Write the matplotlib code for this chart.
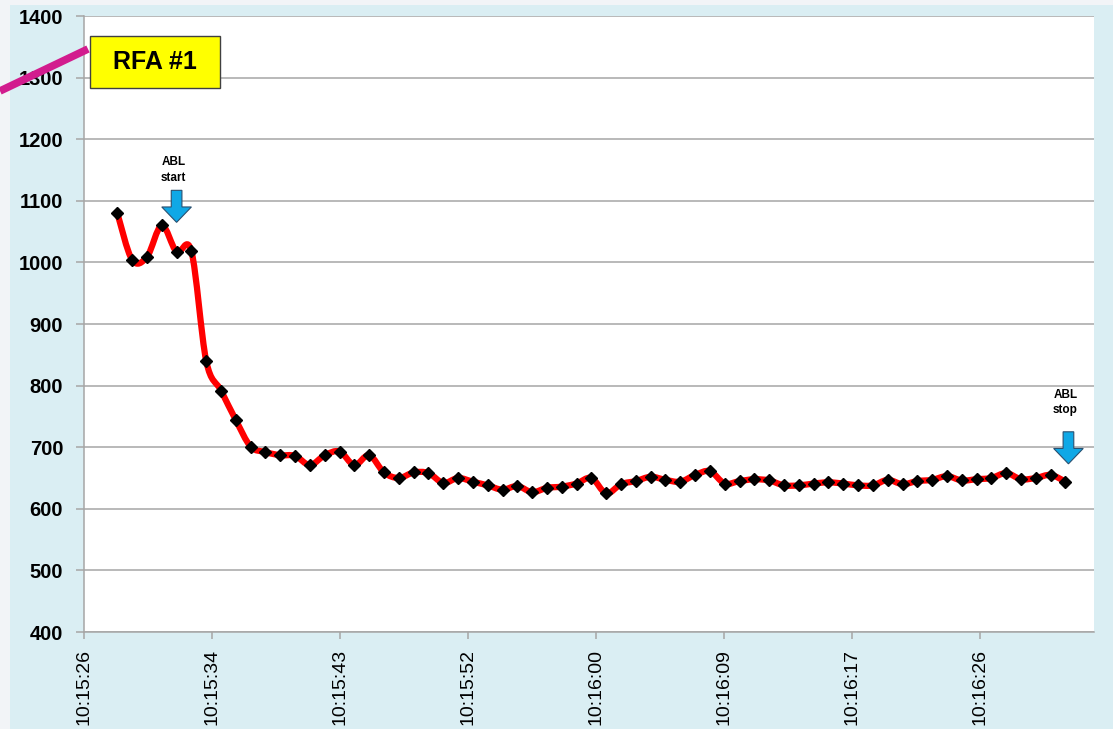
import numpy as np
import matplotlib
matplotlib.use('Agg')
from matplotlib import pyplot as plt
from matplotlib.path import Path
from matplotlib.patches import PathPatch, Rectangle
from matplotlib.lines import Line2D

# impedance readings, one sample per second starting 10:15:28
start_sec = 28  # seconds after 10:15:00
values = [1080, 1004, 1009, 1060, 1017, 1018, 840, 792, 744, 701,
          692, 687, 686, 671, 687, 693, 671, 687, 659, 650,
          659, 658, 642, 650, 644, 638, 631, 637, 627, 634,
          636, 641, 650, 625, 640, 645, 652, 647, 644, 655,
          661, 641, 645, 648, 646, 638, 638, 641, 643, 641,
          638, 638, 647, 640, 645, 647, 653, 646, 648, 650,
          658, 648, 650, 655, 644]
tick_labels = ['10:15:26', '10:15:34', '10:15:43', '10:15:52',
               '10:16:00', '10:16:09', '10:16:17', '10:16:26']
y_ticks = [400, 500, 600, 700, 800, 900, 1000, 1100, 1200, 1300, 1400]

# events: (time in s after 10:15:00, arrow top, label y, label)
events = [(32, 1117, 1150, 'ABL\nstart'),
          (92.2, 725, 773, 'ABL\nstop')]

t = start_sec + np.arange(len(values))
y = np.array(values, dtype=float)

W, H = 1113, 729
fig = plt.figure(figsize=(W / 100, H / 100), dpi=100, facecolor='#daeef3')
# light grey strip along the left and top edge
fig.patches.append(Rectangle((0, 0), 10 / W, 1, transform=fig.transFigure,
                             facecolor='#f2f4f7', edgecolor='none', zorder=-10))
fig.patches.append(Rectangle((0, 1 - 5 / H), 1, 5 / H, transform=fig.transFigure,
                             facecolor='#f2f4f7', edgecolor='none', zorder=-10))

ax = fig.add_axes([84 / W, 1 - 632 / H, 1010 / W, 616 / H])
ax.set_facecolor('white')

x0 = 25.75
step = 8.64
ax.set_xlim(x0, x0 + 1010 / 128 * step)
ax.set_ylim(400, 1400)

ax.set_xticks(x0 + step * np.arange(len(tick_labels)))
ax.set_xticklabels(tick_labels, rotation=90, fontsize=14, family='Liberation Sans')
ax.set_yticks(y_ticks)
ax.set_yticklabels([str(v) for v in y_ticks], fontsize=14.5, fontweight='bold',
                   family='Liberation Sans')
ax.tick_params(axis='y', length=6, color='#a6a6a6', width=1.1, pad=9)
ax.tick_params(axis='x', length=5, color='#a6a6a6', width=1.1, pad=7)

ax.grid(axis='y', color='#a6a6a6', lw=1.1)
ax.set_axisbelow(True)
for side in ['top', 'right']:
    ax.spines[side].set_visible(False)
for side in ['left', 'bottom']:
    ax.spines[side].set_color('#a6a6a6')
    ax.spines[side].set_linewidth(1.1)

# smoothed line (Catmull-Rom style bezier, like Excel's smoothed line)
pts = np.column_stack([t, y])
ext = np.vstack([pts[0], pts, pts[-1]])
verts = [pts[0]]
codes = [Path.MOVETO]
for i in range(len(pts) - 1):
    p0, p1, p2, p3 = ext[i], ext[i + 1], ext[i + 2], ext[i + 3]
    verts += [p1 + (p2 - p0) / 6, p2 - (p3 - p1) / 6, p2]
    codes += [Path.CURVE4] * 3
ax.add_patch(PathPatch(Path(verts, codes), facecolor='none', edgecolor='#ff0000',
                       lw=4.5, capstyle='round', joinstyle='round', zorder=3))
ax.plot(t, y, ls='none', marker='D', ms=6.5, color='black', zorder=4)

# event arrows and labels
for xe, ytop, ylab, label in events:
    ax.arrow(xe, ytop, 0, -52, width=0.72, head_width=2.0, head_length=25,
             length_includes_head=True, facecolor='#0fa8e6', edgecolor='#2a5070',
             lw=0.8, zorder=5, clip_on=False)
    ax.text(xe - 0.2, ylab, label, ha='center', va='center', fontsize=8.5,
            fontweight='bold', family='Liberation Sans', linespacing=1.35, zorder=5)

# RFA #1 label box with magenta pointer
ax.add_patch(Rectangle((6 / 1010, 1 - 72 / 616), 130 / 1010, 52 / 616,
                       transform=ax.transAxes, facecolor='#ffff00',
                       edgecolor='#404040', lw=1, zorder=6))
ax.text(71 / 1010, 1 - 46 / 616, 'RFA #1', transform=ax.transAxes, ha='center',
        va='center', fontsize=18, fontweight='bold', family='Liberation Sans', zorder=7)
fig.lines.append(Line2D([0, 88 / W], [1 - 91 / H, 1 - 49 / H], transform=fig.transFigure,
                        color='#d21c8e', lw=5.5, solid_capstyle='butt', zorder=8))

fig.savefig('out.png', dpi=100, facecolor=fig.get_facecolor())
